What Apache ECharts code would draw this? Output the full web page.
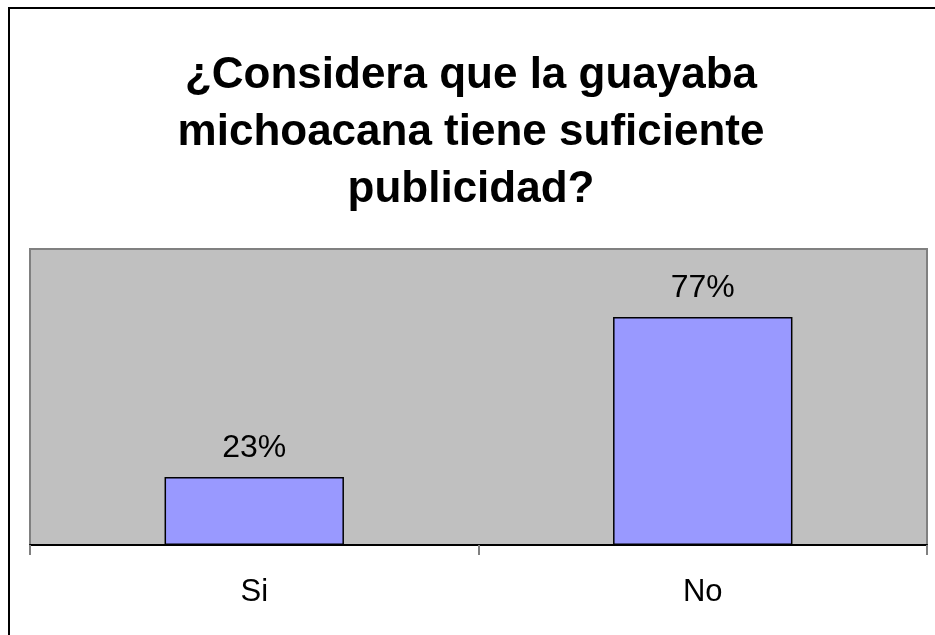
<!DOCTYPE html>
<html>
<head>
<meta charset="utf-8">
<script src="https://cdn.jsdelivr.net/npm/echarts@6/dist/echarts.min.js"></script>
<style>
html,body{margin:0;padding:0;background:#fff;}
#chart{width:935px;height:635px;}
</style>
</head>
<body>
<div id="chart"></div>
<script>
var titleText = "¿Considera que la guayaba\nmichoacana tiene suficiente\npublicidad?";
var categories = ["Si", "No"];
var values = [23, 77];

var chart = echarts.init(document.getElementById('chart'), null, {renderer: 'canvas'});
chart.setOption({
  animation: false,
  backgroundColor: '#ffffff',
  title: {
    text: titleText,
    left: 466,
    top: 42,
    textAlign: 'center',
    textStyle: {
      fontFamily: 'Liberation Sans, Arial, sans-serif',
      fontSize: 44,
      fontWeight: 'bold',
      color: '#000',
      lineHeight: 57
    }
  },
  graphic: [{
    type: 'rect',
    shape: {x: 9, y: 8, width: 1000, height: 1000},
    style: {fill: 'none', stroke: '#000', lineWidth: 2},
    silent: true,
    z: 100
  }],
  grid: {
    left: 30, right: 8, top: 249, bottom: 90,
    show: true,
    backgroundColor: '#c0c0c0',
    borderColor: '#808080',
    borderWidth: 2
  },
  xAxis: {
    type: 'category',
    data: categories,
    axisLine: {show: true, lineStyle: {color: '#000', width: 2}},
    axisTick: {show: true, length: 10, lineStyle: {color: '#808080', width: 2}},
    axisLabel: {
      margin: 32,
      fontFamily: 'Liberation Sans, Arial, sans-serif',
      fontSize: 31,
      color: '#000'
    },
    splitLine: {show: false}
  },
  yAxis: {
    type: 'value',
    min: 0,
    max: 100,
    show: false,
    splitLine: {show: false}
  },
  series: [{
    type: 'bar',
    data: values,
    barWidth: '40%',
    itemStyle: {color: '#9999ff', borderColor: '#000', borderWidth: 1.5},
    label: {
      show: true,
      position: 'top',
      distance: 13,
      formatter: function (p) { return p.value + '%'; },
      fontFamily: 'Liberation Sans, Arial, sans-serif',
      fontSize: 32,
      color: '#000'
    }
  }]
});
</script>
</body>
</html>
